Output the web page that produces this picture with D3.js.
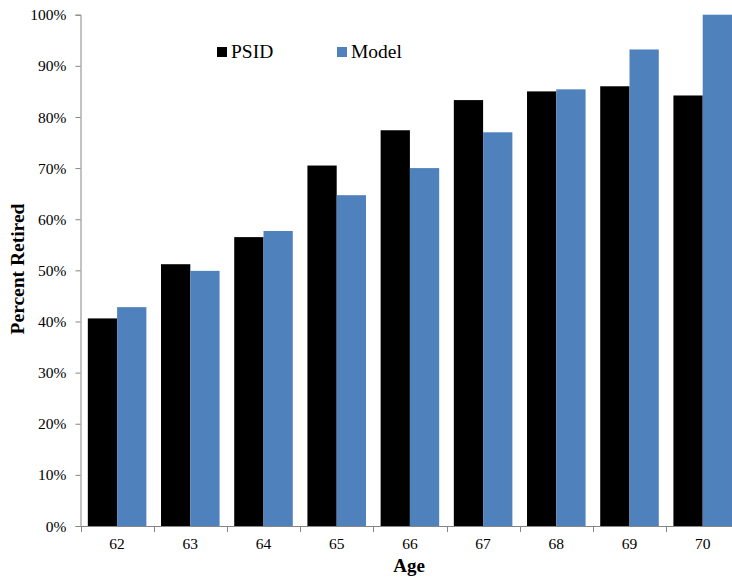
<!DOCTYPE html>
<html><head><meta charset="utf-8">
<script src="https://cdn.jsdelivr.net/npm/d3@7"></script>
<style>body{margin:0;background:#fff;}svg{display:block;}svg text{font-family:"Liberation Serif","Times New Roman",serif;fill:#000;}</style>
</head><body>
<svg id="c" width="732" height="577"></svg>
<script>
const ages = ["62","63","64","65","66","67","68","69","70"];
const psid = [40.6, 51.2, 56.5, 70.5, 77.4, 83.3, 85.0, 86.0, 84.2];
const model = [42.8, 49.9, 57.7, 64.7, 70.0, 77.0, 85.4, 93.2, 100.0];
const yTicks = [0,10,20,30,40,50,60,70,80,90,100];
const seriesNames = ["PSID","Model"];
const colors = ["#000000","#4f81bd"];

(function(){
const FF = "Liberation Serif";
const svg = d3.select("#c");
const pLeft = 80.5, pTop = 14.7, pBottom = 526;
const band = 73.2;
const x = d3.scaleBand().domain(ages).range([pLeft, pLeft + band*ages.length]).paddingInner(0.2).paddingOuter(0.1);
const xs = d3.scaleBand().domain(seriesNames).range([0, x.bandwidth()]);
const y = d3.scaleLinear().domain([0,100]).range([pBottom, pTop]);

const g = svg.append("g");
[psid, model].forEach((vals, si) => {
  g.selectAll(".b"+si).data(vals).enter().append("rect")
    .attr("x", (d,i) => x(ages[i]) + xs(seriesNames[si]))
    .attr("width", xs.bandwidth())
    .attr("y", d => y(d))
    .attr("height", d => pBottom - y(d))
    .attr("fill", colors[si]);
});

// y axis
const ya = svg.append("g").attr("transform", `translate(${pLeft},0)`)
  .call(d3.axisLeft(y).tickValues(yTicks).tickFormat(d => d + "%").tickSizeOuter(0).tickSize(5));
ya.attr("font-family", FF);
ya.select(".domain").attr("stroke", "#868686");
ya.selectAll(".tick line").attr("stroke", "#868686");
ya.selectAll(".tick text").attr("font-family", FF).attr("font-size", 15.5).attr("fill", "#000").attr("x", -14).attr("dy", "0.33em");

// x axis
const xa = svg.append("g").attr("transform", `translate(0,${pBottom})`);
xa.append("line").attr("x1", pLeft).attr("x2", 732).attr("y1", 0.5).attr("y2", 0.5).attr("stroke", "#868686");
const bounds = ages.map((a,i) => pLeft + band*i);
xa.selectAll(".t").data(bounds).enter().append("line")
  .attr("x1", d => Math.round(d)+0.5).attr("x2", d => Math.round(d)+0.5)
  .attr("y1", 0).attr("y2", 6).attr("stroke", "#868686");
xa.selectAll(".l").data(ages).enter().append("text")
  .attr("x", d => x(d) + x.bandwidth()/2).attr("y", 23)
  .attr("text-anchor", "middle").attr("font-family", FF).attr("font-size", 15.5).text(d => d);

// axis titles
svg.append("text").attr("x", 409).attr("y", 572).attr("text-anchor", "middle").attr("font-family", FF)
  .attr("font-size", 19).attr("font-weight", "bold").text("Age");
svg.append("text").attr("transform", "translate(24,269) rotate(-90)").attr("text-anchor", "middle").attr("font-family", FF)
  .attr("font-size", 19.5).attr("font-weight", "bold").text("Percent Retired");

// legend
const legX = [217, 337];
seriesNames.forEach((n, i) => {
  svg.append("rect").attr("x", legX[i]).attr("y", 47).attr("width", 10).attr("height", 10).attr("fill", colors[i]);
  svg.append("text").attr("x", legX[i] + 14).attr("y", 58).attr("font-family", FF).attr("font-size", 19.5).text(n);
});
})();
</script>
</body></html>
